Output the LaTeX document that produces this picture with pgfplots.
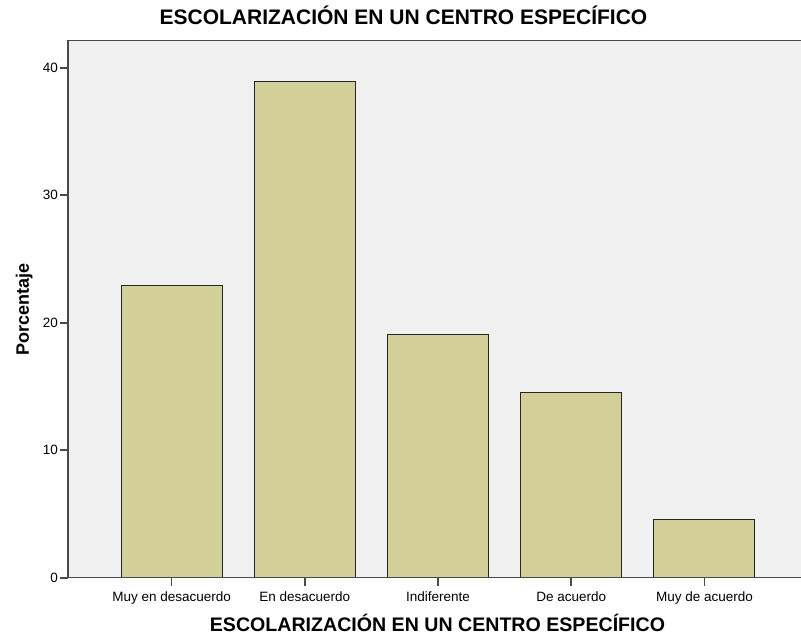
\documentclass[border=0pt]{standalone}
\usepackage{pgfplots}
\pgfplotsset{compat=1.18}
\usepackage{fontspec}
\setmainfont{Liberation Sans}
\definecolor{barfill}{HTML}{D3CF98}
\definecolor{bgc}{HTML}{F0F0F0}
\definecolor{axc}{HTML}{4A4A4A}
\begin{document}
\begin{tikzpicture}
\useasboundingbox (-68pt,-57.3pt) rectangle (733pt,577.7pt);
\begin{axis}[
  at={(0pt,0pt)}, anchor=south west,
  scale only axis, width=736pt, height=537pt,
  xmin=-0.778, xmax=4.7475, ymin=0, ymax=42.12,
  axis line style={axc, line width=1.4pt},
  axis background/.style={fill=bgc},
  axis on top,
  bar width=0.758,
  xtick={0,1,2,3,4},
  xticklabels={Muy en desacuerdo, En desacuerdo, Indiferente, De acuerdo, Muy de acuerdo},
  ytick={0,10,20,30,40},
  xtick pos=left, ytick pos=left,
  tick align=outside,
  major tick length=8pt,
  tick style={draw=axc, line width=1.6pt},
  /pgf/number format/assume math mode=true,
  tick label style={font=\fontsize{13.5}{16}\selectfont},
  xticklabel style={anchor=north, inner sep=0pt, yshift=-5.4pt},
  yticklabel style={anchor=east, inner sep=0pt, xshift=-2pt},
  title={ESCOLARIZACIÓN EN UN CENTRO ESPECÍFICO},
  title style={at={(axis description cs:0.4558,1.0181)}, anchor=base, font=\fontsize{21}{24}\selectfont\bfseries},
  xlabel={ESCOLARIZACIÓN EN UN CENTRO ESPECÍFICO},
  xlabel style={at={(axis description cs:0.502,-0.0995)}, anchor=base, inner sep=0pt, font=\fontsize{19.6}{23}\selectfont\bfseries},
  ylabel={Porcentaje},
  ylabel style={at={(axis description cs:-0.053,0.5)}, anchor=base, font=\fontsize{18}{21}\selectfont\bfseries},
]
\addplot[ybar, fill=barfill, draw=black!85, line width=1pt] coordinates {(0,22.9) (1,38.9) (2,19.1) (3,14.5) (4,4.6)};
\end{axis}
\end{tikzpicture}
\end{document}
